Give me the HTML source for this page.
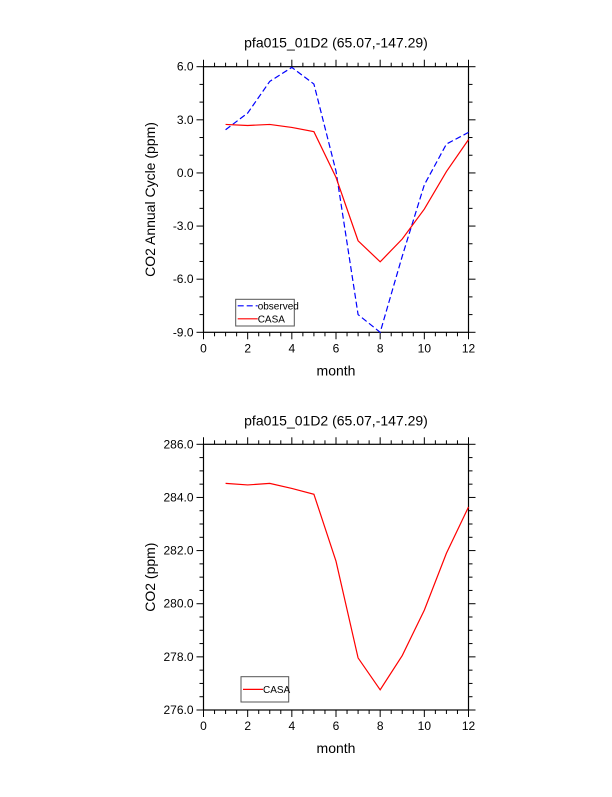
<!DOCTYPE html>
<html><head><meta charset="utf-8"><style>
body{margin:0;background:#fff}
svg text{font-family:"Liberation Sans",sans-serif;fill:#000}
</style></head><body>
<svg id="chart" width="612" height="792" xmlns="http://www.w3.org/2000/svg"></svg>
<script>
const months=[1,2,3,4,5,6,7,8,9,10,11,12];
const observed=[2.44,3.38,5.17,5.96,5.02,0.1,-8.0,-9.0,-4.7,-0.67,1.63,2.29];
const casaAnom=[2.74,2.68,2.74,2.57,2.33,-0.25,-3.83,-5.02,-3.73,-2.04,0.08,1.88];
const casaCO2=[284.53,284.47,284.53,284.34,284.12,281.6,277.96,276.76,278.05,279.76,281.9,283.64];
const xTicks=[0,2,4,6,8,10,12];
const yTicksTop=[6,3,0,-3,-6,-9];
const yTicksBot=[286,284,282,280,278,276];
const NS='http://www.w3.org/2000/svg';
const svg=document.getElementById('chart');
function el(tag,attrs,parent){const e=document.createElementNS(NS,tag);for(const k in attrs)e.setAttribute(k,attrs[k]);(parent||svg).appendChild(e);return e;}
function panel(o){
  const g=el('g',{});
  
  
  const L=203.5,R=468.5,T=o.top,B=o.bottom;
  const sx=v=>L+(v-0)/(12-0)*(R-L);
  const sy=v=>B-(v-o.ymin)/(o.ymax-o.ymin)*(B-T);
  // ticks
  for(let v=0;v<=12;v+=0.5){const maj=v%2===0;const x=sx(v);
    el('line',{x1:x,x2:x,y1:B,y2:B+(maj?7:4),stroke:'#000','stroke-width':1},g);
    el('line',{x1:x,x2:x,y1:T,y2:T-(maj?7:4),stroke:'#000','stroke-width':1},g);}
  for(let v=o.ymin;v<=o.ymax+1e-9;v+=o.minor){const r=(v-o.ymin)/o.major;const maj=Math.abs(r-Math.round(r))<1e-6;const y=sy(v);
    el('line',{x1:L,x2:L-(maj?7:4),y1:y,y2:y,stroke:'#000','stroke-width':1},g);
    el('line',{x1:R,x2:R+(maj?7:4),y1:y,y2:y,stroke:'#000','stroke-width':1},g);}
  const f=el('rect',{x:L,y:T,width:R-L,height:B-T,fill:'none',stroke:'#000','stroke-width':1.2},g);
  
  xTicks.forEach(v=>{const t=el('text',{x:sx(v),y:B+20,'text-anchor':'middle','font-size':12},g);t.textContent=v;
    });
  o.yTicks.forEach(v=>{const t=el('text',{x:L-10,y:sy(v)+4,'text-anchor':'end','font-size':12},g);t.textContent=v.toFixed(1);
    });
  const tt=el('text',{x:(L+R)/2,y:T-19,'text-anchor':'middle','font-size':14},g);tt.textContent='pfa015_01D2 (65.07,-147.29)';
  
  const xt=el('text',{x:(L+R)/2,y:B+43,'text-anchor':'middle','font-size':14},g);xt.textContent='month';
  
  const yx=155,yy=(T+B)/2;
  const yt=el('text',{x:yx,y:yy,'text-anchor':'middle','font-size':14,transform:`rotate(-90 ${yx} ${yy})`},g);yt.textContent=o.ylabel;
  
  o.series.forEach(s=>{
    const p=el('polyline',{points:months.map((m,i)=>sx(m)+','+sy(s.data[i])).join(' '),fill:'none',stroke:s.color,'stroke-width':1.2,'stroke-dasharray':s.dash||'none'},g);
    
  });
  const lg=el('g',{},g);
  
  el('rect',{x:o.leg.x,y:o.leg.y,width:o.leg.w,height:o.leg.h,fill:'#fff',stroke:'#555','stroke-width':1},lg);
  o.series.forEach((s,i)=>{const y=o.leg.y+(o.series.length===1?o.leg.h/2:6.5+i*13);
    el('line',{x1:o.leg.x+2,x2:o.leg.x+22,y1:y,y2:y,stroke:s.color,'stroke-width':1.2,'stroke-dasharray':s.dash||'none'},lg);
    const t=el('text',{x:o.leg.x+22,y:y+3.5,'font-size':10},lg);t.textContent=s.label;
    });
}
panel({name:'annual-cycle-panel',top:66.7,bottom:332.3,ymin:-9,ymax:6,major:3,minor:1,yTicks:yTicksTop,ylabel:'CO2 Annual Cycle (ppm)',
  series:[{name:'observed-line',label:'observed',data:observed,color:'#0000ff',dash:'6,3'},{name:'casa-line',label:'CASA',data:casaAnom,color:'#ff0000'}],
  leg:{x:235.7,y:299.3,w:58.6,h:26.7}});
panel({name:'co2-panel',top:444.3,bottom:710,ymin:276,ymax:286,major:2,minor:0.5,yTicks:yTicksBot,ylabel:'CO2 (ppm)',
  series:[{name:'casa-co2-line',label:'CASA',data:casaCO2,color:'#ff0000'}],
  leg:{x:241,y:676.7,w:47.7,h:25.3}});
</script>
</body></html>
